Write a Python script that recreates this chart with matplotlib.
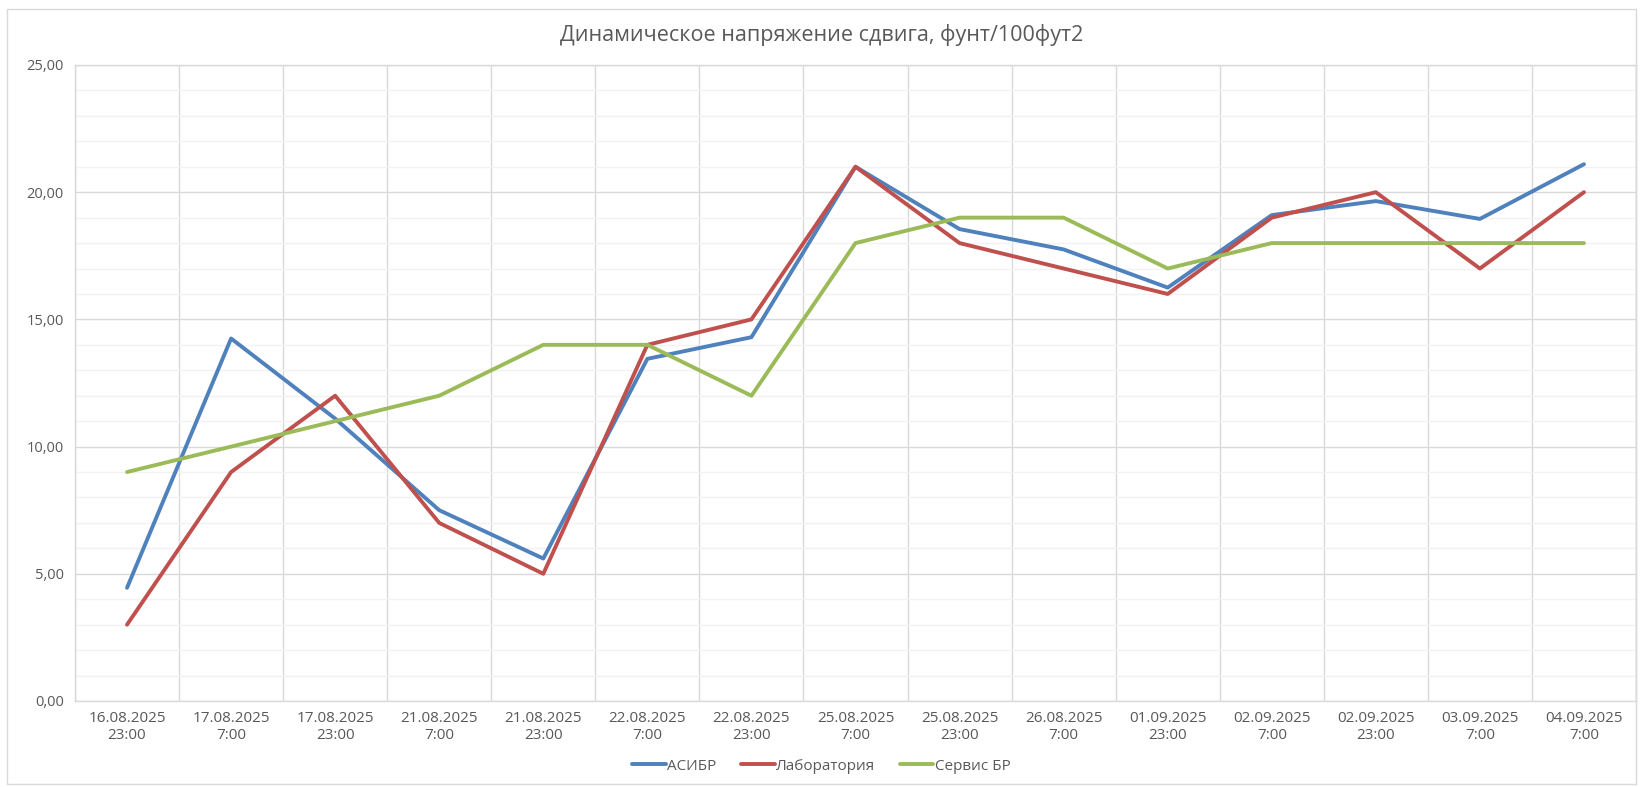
import matplotlib
matplotlib.use("Agg")
import matplotlib.pyplot as plt
from matplotlib.patches import Rectangle
import numpy as np

categories = ["16.08.2025\n23:00", "17.08.2025\n7:00", "17.08.2025\n23:00", "21.08.2025\n7:00",
              "21.08.2025\n23:00", "22.08.2025\n7:00", "22.08.2025\n23:00", "25.08.2025\n7:00",
              "25.08.2025\n23:00", "26.08.2025\n7:00", "01.09.2025\n23:00", "02.09.2025\n7:00",
              "02.09.2025\n23:00", "03.09.2025\n7:00", "04.09.2025\n7:00"]
asibr = [4.45, 14.25, 11.1, 7.5, 5.6, 13.45, 14.3, 21.0, 18.55, 17.75, 16.25, 19.1, 19.65, 18.95, 21.1]
lab = [3, 9, 12, 7, 5, 14, 15, 21, 18, 17, 16, 19, 20, 17, 20]
service = [9, 10, 11, 12, 14, 14, 12, 18, 19, 19, 17, 18, 18, 18, 18]
series_names = ["АСИБР", "Лаборатория", "Сервис БР"]
yticks = [0, 5, 10, 15, 20, 25]
title = "Динамическое напряжение сдвига, фунт/100фут2"

colors = ["#4F81BD", "#C0504D", "#9BBB59"]
text_color = "#595959"
plt.rcParams['font.family'] = ['Open Sans', 'DejaVu Sans']

fig = plt.figure(figsize=(16.43, 7.87), dpi=100)
ax = fig.add_axes([75/1643, 1-701/787, (1636-75)/1643, (701-65)/787])

x = np.arange(len(categories))
for vals, c, n in zip([asibr, lab, service], colors, series_names):
    ax.plot(x, vals, color=c, lw=2.8, label=n, solid_capstyle='round', solid_joinstyle='round', zorder=3)

ax.set_xlim(-0.5, len(categories) - 0.5)
ax.set_ylim(0, 25)
ax.set_yticks(yticks)
ax.set_yticklabels([f"{v:.2f}".replace(".", ",") for v in yticks])
ax.set_yticks(np.arange(0, 26, 1), minor=True)
ax.set_xticks(x)
ax.set_xticklabels(categories)
ax.set_xticks(np.arange(-0.5, len(categories), 1), minor=True)

ax.grid(which='minor', axis='y', color='#F2F2F2', lw=1.0, zorder=0)
ax.grid(which='major', axis='y', color='#D9D9D9', lw=1.0, zorder=1)
ax.grid(which='minor', axis='x', color='#D9D9D9', lw=1.0, zorder=1)
ax.tick_params(which='both', length=0)
ax.tick_params(axis='y', colors=text_color, labelsize=10.5, pad=8)
ax.tick_params(axis='x', colors=text_color, labelsize=11, pad=7)
for lbl in ax.get_xticklabels():
    lbl.set_linespacing(1.25)
for s in ax.spines.values():
    s.set_color('#D9D9D9')
    s.set_linewidth(1.0)

fig.text(0.5, 1 - 35/787, title, ha='center', va='center', fontsize=15.5, color=text_color)

leg = fig.legend(loc='center', bbox_to_anchor=(0.5, 1 - 766/787), ncol=3, frameon=False,
                 fontsize=11, handlelength=2.2, handletextpad=0.1, columnspacing=1.6)
for t in leg.get_texts():
    t.set_color(text_color)

fig.patches.append(Rectangle((7/1643, 3/787), 1-14/1643, 1-12/787, transform=fig.transFigure,
                             fill=False, edgecolor='#D9D9D9', lw=1.0))

fig.savefig("out.png", dpi=100, facecolor='white')
